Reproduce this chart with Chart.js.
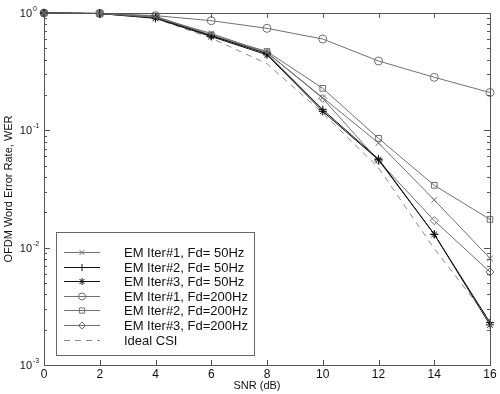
<!DOCTYPE html>
<html>
<head>
<meta charset="utf-8">
<script src="https://cdn.jsdelivr.net/npm/chart.js"></script>
<style>
body{margin:0;background:#fff;}
#wrap{width:500px;height:394px;}
</style>
</head>
<body>
<div id="wrap"><canvas id="chart" width="500" height="394"></canvas></div>
<script>

// SNR (dB) points
const snr = [0, 2, 4, 6, 8, 10, 12, 14, 16];

const xTicks = [0, 2, 4, 6, 8, 10, 12, 14, 16];
const yDecades = [1, 0.1, 0.01, 0.001];

// WER values
const iter1_50 = [1, 0.99, 0.92, 0.67, 0.46, 0.19, 0.078, 0.0255, 0.0081];
const iter2_50 = [1, 0.99, 0.91, 0.64, 0.45, 0.15, 0.057, 0.013, 0.0023];
const iter3_50 = [1, 0.99, 0.90, 0.63, 0.44, 0.145, 0.056, 0.013, 0.0022];
const iter1_200 = [1, 0.99, 0.95, 0.86, 0.74, 0.60, 0.39, 0.283, 0.21];
const iter2_200 = [1, 0.99, 0.94, 0.65, 0.47, 0.228, 0.0855, 0.034, 0.0174];
const iter3_200 = [1, 0.99, 0.93, 0.64, 0.46, 0.187, 0.055, 0.017, 0.0062];
const idealCsi = [1, 0.99, 0.90, 0.61, 0.37, 0.14, 0.048, 0.0098, 0.0024];

const labels = [
"EM Iter#1, Fd= 50Hz",
"EM Iter#2, Fd= 50Hz",
"EM Iter#3, Fd= 50Hz",
"EM Iter#1, Fd=200Hz",
"EM Iter#2, Fd=200Hz",
"EM Iter#3, Fd=200Hz",
"Ideal CSI"
];

const xTitle = "SNR (dB)";

const gray = "#707070";
const black = "#111";

function pts(arr){
return snr.map((x,i)=>({x:x,y:arr[i]}));
}

function series(label,arr,color,style,dash){
return {
label:label,
data:pts(arr),
borderColor:color,
borderWidth:1,
borderDash:dash||[],
pointStyle:style,
pointRadius:style?4:0,
pointBorderColor:color,
pointBackgroundColor:"rgba(0,0,0,0)",
pointBorderWidth:1,
tension:0,
clip:false
};
}

const datasets = [
series(labels[0],iter1_50,gray,"crossRot"),
series(labels[1],iter2_50,black,"cross"),
series(labels[2],iter3_50,black,"star"),
series(labels[3],iter1_200,gray,"circle"),
series(labels[4],iter2_200,gray,"rect"),
series(labels[5],iter3_200,gray,"rectRot"),
series(labels[6],idealCsi,"#8a8a8a",false,[6,5])
];


function drawMarker(ctx,style,x,y,r){

ctx.beginPath();

if(style=="circle"){
ctx.arc(x,y,r,0,Math.PI*2);
}else if(style=="rect"){
ctx.rect(x-r*0.75,y-r*0.75,r*1.5,r*1.5);
}else if(style=="rectRot"){
ctx.moveTo(x,y-r);ctx.lineTo(x+r,y);ctx.lineTo(x,y+r);ctx.lineTo(x-r,y);ctx.closePath();
}else{
let a=r*0.72;
if(style=="cross"||style=="star"){
ctx.moveTo(x-r,y);ctx.lineTo(x+r,y);ctx.moveTo(x,y-r);ctx.lineTo(x,y+r);
}
if(style=="crossRot"||style=="star"){
ctx.moveTo(x-a,y-a);ctx.lineTo(x+a,y+a);ctx.moveTo(x-a,y+a);ctx.lineTo(x+a,y-a);
}
}

ctx.stroke();

}


// frame, inward ticks, y tick labels with exponents, x title
const framePlugin = {
id:"frame",
afterDatasetsDraw(chart){

const ctx=chart.ctx;
const a=chart.chartArea;
const xs=chart.scales.x;
const ys=chart.scales.y;

ctx.save();
ctx.strokeStyle="#555";
ctx.lineWidth=1;
ctx.setLineDash([]);

ctx.strokeRect(a.left+0.5,a.top+0.5,a.right-a.left,a.bottom-a.top);

ctx.beginPath();
xTicks.forEach(t=>{
let px=Math.round(xs.getPixelForValue(t))+0.5;
ctx.moveTo(px,a.bottom);ctx.lineTo(px,a.bottom-5);
ctx.moveTo(px,a.top);ctx.lineTo(px,a.top+5);
});

for(let d=-3;d<0;d++){
for(let k=1;k<10;k++){
let v=k*Math.pow(10,d);
let py=Math.round(ys.getPixelForValue(v))+0.5;
let len=(k==1)?6:3;
ctx.moveTo(a.left,py);ctx.lineTo(a.left+len,py);
ctx.moveTo(a.right,py);ctx.lineTo(a.right-len,py);
}
}
ctx.stroke();

ctx.fillStyle="#111";
ctx.textBaseline="middle";
yDecades.forEach(v=>{
let py=ys.getPixelForValue(v);
let e=Math.round(Math.log10(v));
ctx.font="11px 'Liberation Sans', Arial, sans-serif";
ctx.textAlign="right";
ctx.fillText("10",32,py+1);
ctx.font="7px 'Liberation Sans', Arial, sans-serif";
ctx.textAlign="left";
ctx.fillText(e==0?"0":"-"+(-e),33,py-4);
});

ctx.font="11px 'Liberation Sans', Arial, sans-serif";
ctx.textAlign="center";
ctx.fillText(xTitle,257,386);

ctx.restore();

}
};


// legend box inside the plot, lower left
const legendPlugin = {
id:"boxLegend",
afterDraw(chart){

const ctx=chart.ctx;

ctx.save();

ctx.fillStyle="#fff";
ctx.fillRect(56,232,198,123);
ctx.strokeStyle="#666";
ctx.lineWidth=1;
ctx.setLineDash([]);
ctx.strokeRect(56.5,232.5,198,123);

chart.data.datasets.forEach((ds,i)=>{

let y=Math.round(252+i*14.6)+0.5;

ctx.strokeStyle=ds.borderColor;
ctx.setLineDash(ds.borderDash);
ctx.beginPath();
ctx.moveTo(64,y);ctx.lineTo(100,y);
ctx.stroke();
ctx.setLineDash([]);

if(ds.pointStyle){
drawMarker(ctx,ds.pointStyle,82,y,3.5);
}

ctx.fillStyle="#111";
ctx.font="13px 'Liberation Sans', Arial, sans-serif";
ctx.textAlign="left";
ctx.textBaseline="middle";
ctx.fillText(ds.label,124,y+1);

});

ctx.restore();

}
};


new Chart(document.getElementById("chart"),{

type:"line",

data:{datasets:datasets},

options:{
responsive:false,
animation:false,
events:[],
layout:{
autoPadding:false,
padding:{top:13,right:10,left:0,bottom:0}
},
plugins:{
legend:{display:false},
tooltip:{enabled:false}
},
scales:{
x:{
type:"linear",
min:0,
max:16,
afterFit:function(s){s.height=29;},
afterBuildTicks:function(s){s.ticks=xTicks.map(v=>({value:v}));},
grid:{display:false,drawTicks:false},
border:{display:false},
ticks:{
color:"#111",
padding:2,
font:{family:"'Liberation Sans', Arial, sans-serif",size:12}
},
title:{display:false}
},
y:{
type:"logarithmic",
min:0.001,
max:1,
afterFit:function(s){s.width=44;},
grid:{display:false,drawTicks:false},
border:{display:false},
ticks:{display:false},
title:{
display:true,
text:"OFDM Word Error Rate, WER",
color:"#111",
padding:{top:2,bottom:0},
font:{family:"'Liberation Sans', Arial, sans-serif",size:11}
}
}
}
},

plugins:[framePlugin,legendPlugin]

});

</script>
</body>
</html>
